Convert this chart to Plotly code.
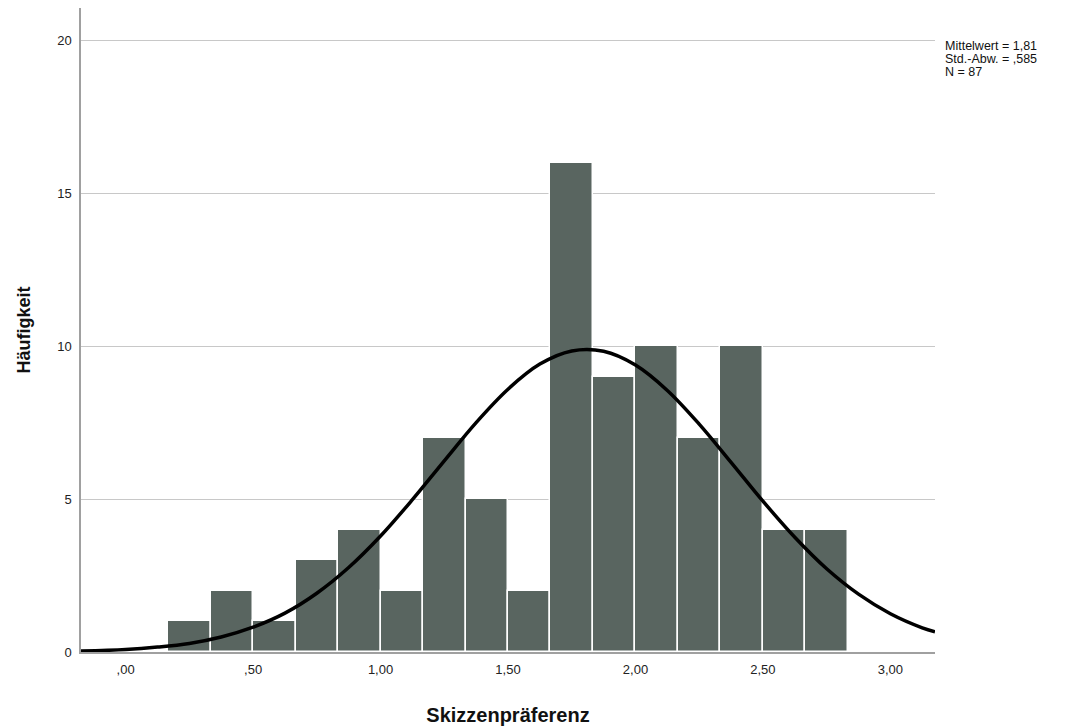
import plotly.graph_objects as go

# Histogram bins (lower edges, width 1/6) and frequencies
bin_width = 1 / 6
bin_starts = [i / 6 for i in range(1, 17)]
counts = [1, 2, 1, 3, 4, 2, 7, 5, 2, 16, 9, 10, 7, 10, 4, 4]

# Normal curve points (mean 1,81, sd ,585, N = 87)
curve_x = [-0.175, 0.0, 0.125, 0.25, 0.375, 0.5, 0.625, 0.75, 0.875, 1.0, 1.125, 1.25, 1.375,
           1.5, 1.625, 1.75, 1.875, 2.0, 2.125, 2.25, 2.375, 2.5, 2.625, 2.75, 2.875, 3.0,
           3.125, 3.175]
curve_y = [0.03, 0.08, 0.16, 0.28, 0.49, 0.81, 1.27, 1.92, 2.76, 3.79, 4.98, 6.25, 7.50,
           8.59, 9.41, 9.84, 9.83, 9.38, 8.55, 7.45, 6.20, 4.93, 3.75, 2.72, 1.89, 1.25,
           0.79, 0.66]

x_tickvals = [0.0, 0.5, 1.0, 1.5, 2.0, 2.5, 3.0]
x_ticktext = [",00", ",50", "1,00", "1,50", "2,00", "2,50", "3,00"]
y_tickvals = [0, 5, 10, 15, 20]

stats_lines = ["Mittelwert = 1,81", "Std.-Abw. = ,585", "N = 87"]
stats_y = [0.941, 0.921, 0.9005]

bar_centers = [s + bin_width / 2 for s in bin_starts]

fig = go.Figure()
fig.add_trace(go.Bar(
    x=bar_centers, y=counts, width=[bin_width] * len(counts),
    marker=dict(color="#596560", line=dict(color="white", width=1.5)),
    showlegend=False, hoverinfo="skip",
))
fig.add_trace(go.Scatter(
    x=curve_x, y=curve_y, mode="lines",
    line=dict(color="black", width=3.5, shape="spline", smoothing=1.0),
    showlegend=False, hoverinfo="skip",
))

fig.update_layout(
    width=1062, height=720,
    margin=dict(l=73, r=135, t=0, b=76),
    paper_bgcolor="white", plot_bgcolor="white",
    font=dict(family="Liberation Sans, Arial, sans-serif", color="#222222", size=13),
    bargap=0,
    xaxis=dict(
        range=[-0.175, 3.175], tickvals=x_tickvals, ticktext=x_ticktext,
        showgrid=False, zeroline=False, showline=True, linecolor="#a0a0a0", linewidth=1.5,
        ticks="", ticklabelstandoff=5, tickfont=dict(size=13, color="#222222"),
        title=dict(text="<b>Skizzenpräferenz</b>", font=dict(size=20, color="#111111"), standoff=32),
        automargin=False,
    ),
    yaxis=dict(
        range=[0, 21.05], tickvals=y_tickvals,
        showgrid=True, gridcolor="#c8c8c8", gridwidth=1, zeroline=False,
        showline=True, linecolor="#a0a0a0", linewidth=1.5,
        ticks="", ticklabelstandoff=5, tickfont=dict(size=13, color="#222222"),
        title=dict(text="<b>Häufigkeit</b>", font=dict(size=18, color="#111111"), standoff=22),
        automargin=False,
    ),
    annotations=[dict(
        text=t, xref="paper", yref="paper", x=1.0095, y=yy,
        xanchor="left", yanchor="middle", align="left", showarrow=False,
        font=dict(size=12.5, color="#111111"),
    ) for t, yy in zip(stats_lines, stats_y)],
)

fig.write_html("out.html")
